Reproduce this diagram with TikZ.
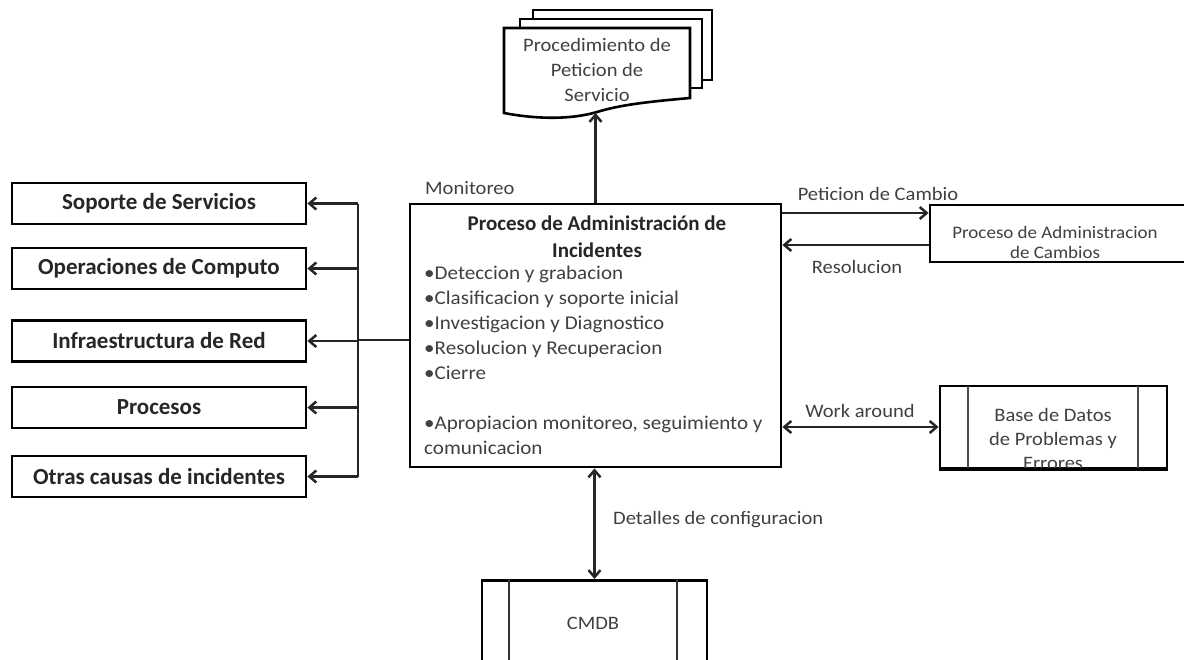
\documentclass[tikz,border=0pt]{standalone}
\usepackage{fontspec}
\setmainfont{Carlito}
\newfontfamily\regf[FakeStretch=1.08]{Carlito}
\usetikzlibrary{arrows.meta}
\definecolor{txt}{gray}{0.25}
\tikzset{
  box/.style={draw=black, line width=2.8pt, fill=white, inner sep=0pt},
  causebox/.style={box, minimum width=294pt, minimum height=41pt,
    font=\fontsize{23}{26}\selectfont\bfseries, text=black!85},
  lbl/.style={font=\regf\fontsize{19}{22}\selectfont, text=txt, inner sep=0pt},
  conn/.style={line width=2.5pt, draw=black!85},
  barb/.tip={Straight Barb[length=7pt,width=12pt,line width=2.5pt]},
  tip/.style={conn, -barb},
  tips/.style={conn, barb-barb},
  page/.style={draw=black, line width=2.6pt, fill=white},
}
\begin{document}
\begin{tikzpicture}[x=1pt, y=-1pt]
\useasboundingbox (0,0) rectangle (1184,659);
\clip (0,0) rectangle (1184,659);

% stacked documents: service request procedure
\draw[page] (533,10) rectangle (712,80);
\draw[page] (520,19) rectangle (702,88);
\draw[page] (504,28) -- (690,28) -- (690,98)
  .. controls (645,102) and (620,105) .. (597,112)
  .. controls (570,120) and (535,119) .. (504,113) -- cycle;
\coordinate (docbot) at (595.5,113);
\node[lbl, align=center, font=\regf\fontsize{19}{25}\selectfont] (doc) at (597,70)
  {Procedimiento de\\Peticion de\\Servicio};

% incident management process
\node[box, minimum width=371pt, minimum height=263pt] (main) at (595.5,335.5) {};
\node[inner sep=0pt, align=center, font=\fontsize{21}{27}\selectfont\bfseries, text=black!85]
  (title) at (597,237) {Proceso de Administración de\\Incidentes};
\node[lbl, anchor=north west, align=left, font=\regf\fontsize{19.5}{25}\selectfont]
  (steps) at (424,266) {•Deteccion y grabacion\\•Clasificacion y soporte inicial\\
  •Investigacion y Diagnostico\\•Resolucion y Recuperacion\\•Cierre\\[25pt]
  •Apropiacion monitoreo, seguimiento y\\comunicacion};
\node[lbl, anchor=west] (mon) at (425,188) {Monitoreo};

% causes of incidents
\node[causebox] (sop) at (159,203.5) {Soporte de Servicios};
\node[causebox] (ope) at (159,268.5) {Operaciones de Computo};
\node[causebox] (inf) at (159,341) {Infraestructura de Red};
\node[causebox] (pro) at (159,407.5) {Procesos};
\node[causebox] (otr) at (159,476.5) {Otras causas de incidentes};

\coordinate (bus) at (358,340);
\draw[conn] (bus -| main.west) -- (bus);
\draw[conn] (bus |- sop.east) -- (bus |- otr.east);
\foreach \n in {sop,ope,inf,pro,otr}
  \draw[tip] (bus |- \n.east) -- (\n.east);

\draw[tip] (main.north) -- (docbot);

% change management
\node[box, minimum width=262pt, minimum height=57pt] (chg) at (1061,233.5) {};
\node[lbl, align=center, font=\regf\fontsize{17.6}{20}\selectfont] (chgt) at (1055,242)
  {Proceso de Administracion\\de Cambios};
\coordinate (pet) at (0,213);
\coordinate (res) at (0,245);
\draw[tip] (main.east |- pet) -- (chg.west |- pet);
\draw[tip] (chg.west |- res) -- (main.east |- res);
\node[lbl] (petl) at (878,194) {Peticion de Cambio};
\node[lbl] (resl) at (857,267) {Resolucion};

% known error database
\node[box, minimum width=227pt, minimum height=82pt] (kedb) at (1053.5,427) {};
\draw[line width=2.5pt, draw=black!70] (968,386) -- (968,468) (1138,386) -- (1138,468);
\node[lbl, align=center, font=\regf\fontsize{19}{24}\selectfont] (kedbt) at (1053,439)
  {Base de Datos\\de Problemas y\\Errores};
\draw[line width=2.8pt] (kedb.south west) -- (kedb.south east);
\draw[tips] (main.east |- kedb.west) -- (kedb.west);
\node[lbl] (wal) at (860,411) {Work around};

% configuration management database
\node[box, minimum width=225pt, minimum height=110pt, anchor=north] (cmdb) at (594.5,579) {};
\draw[line width=2.5pt, draw=black!80] (509,579) -- (509,680) (677,579) -- (677,680);
\node[lbl] (cmdbt) at (593,623) {CMDB};
\draw[tips] (main.south -| cmdb.north) -- (cmdb.north);
\node[lbl, anchor=west] (detl) at (613,520) {Detalles de configuracion};
\end{tikzpicture}
\end{document}
